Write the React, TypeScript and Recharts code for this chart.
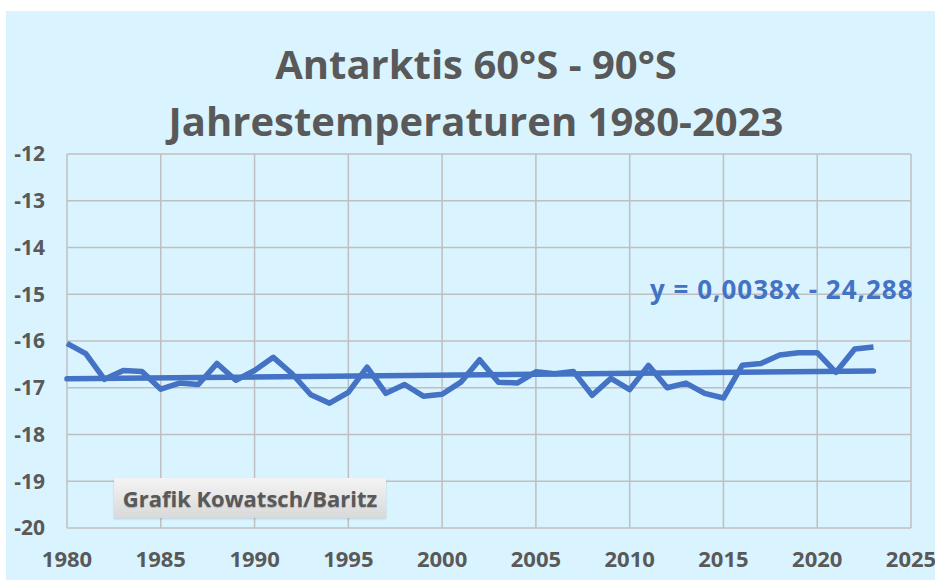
import React from "react";
import { LineChart, Line, XAxis, YAxis, CartesianGrid } from "recharts";

const years = [
  1980, 1981, 1982, 1983, 1984, 1985, 1986, 1987, 1988, 1989,
  1990, 1991, 1992, 1993, 1994, 1995, 1996, 1997, 1998, 1999,
  2000, 2001, 2002, 2003, 2004, 2005, 2006, 2007, 2008, 2009,
  2010, 2011, 2012, 2013, 2014, 2015, 2016, 2017, 2018, 2019,
  2020, 2021, 2022, 2023,
];
const temps = [
  -16.05, -16.27, -16.82, -16.63, -16.65, -17.03, -16.9, -16.93, -16.48, -16.84,
  -16.63, -16.35, -16.7, -17.15, -17.33, -17.1, -16.56, -17.12, -16.93, -17.18,
  -17.14, -16.88, -16.4, -16.88, -16.9, -16.66, -16.7, -16.65, -17.16, -16.8,
  -17.04, -16.52, -17.0, -16.9, -17.12, -17.22, -16.52, -16.48, -16.3, -16.25,
  -16.25, -16.67, -16.17, -16.13,
];
const trendYears = [1980, 2023];
const trendValues = [-16.81, -16.64];
const xTicks = [1980, 1985, 1990, 1995, 2000, 2005, 2010, 2015, 2020, 2025];
const yTicks = [-20, -19, -18, -17, -16, -15, -14, -13, -12];
const titleLines = ["Antarktis 60°S - 90°S", "Jahrestemperaturen 1980-2023"];
const equationText = "y = 0,0038x - 24,288";
const creditText = "Grafik Kowatsch/Baritz";

const data = years.map((y, i) => ({ year: y, temp: temps[i] }));
const trendData = trendYears.map((y, i) => ({ year: y, trend: trendValues[i] }));

const FONT = "'Open Sans', Lato, sans-serif";
const BLUE = "#4472C4";
const GRAY = "#595959";

export default function App() {
  return (
    <div style={{ position: "fixed", left: 0, top: 0, width: 935, height: 580, background: "#ffffff", overflow: "hidden" }}>
      <div style={{ position: "absolute", left: 6, top: 11, width: 929, height: 569, background: "#D9F4FE" }}>
        <LineChart
          width={929}
          height={569}
          margin={{ top: 143, right: 24, bottom: 0, left: 0 }}
          style={{ fontFamily: FONT }}
        >
          <CartesianGrid stroke="#BFBFBF" strokeWidth={1.5} />
          <XAxis
            dataKey="year"
            type="number"
            domain={[1980, 2025]}
            ticks={xTicks}
            axisLine={false}
            tickLine={false}
            height={52}
            tickMargin={17}
            allowDuplicatedCategory={false}
            tick={{ fill: GRAY, fontSize: 22, fontWeight: 700, fontFamily: FONT }}
          />
          <YAxis
            type="number"
            domain={[-20, -12]}
            ticks={yTicks}
            axisLine={false}
            tickLine={false}
            width={61}
            tickMargin={16}
            interval={0}
            tick={{ fill: GRAY, fontSize: 21, fontWeight: 700, fontFamily: FONT }}
          />
          <Line
            data={data}
            dataKey="temp"
            type="linear"
            stroke={BLUE}
            strokeWidth={5.5}
            dot={false}
            isAnimationActive={false}
            strokeLinejoin="round"
          />
          <Line
            data={trendData}
            dataKey="trend"
            type="linear"
            stroke={BLUE}
            strokeWidth={5.5}
            dot={false}
            isAnimationActive={false}
            strokeLinecap="round"
          />
        </LineChart>
      </div>
      <div
        style={{
          position: "absolute",
          left: 0,
          width: 935,
          top: 35,
          textAlign: "center",
          fontFamily: FONT,
          fontWeight: 700,
          fontSize: 40,
          lineHeight: "57px",
          color: GRAY,
        }}
      >
        <div style={{ paddingLeft: 17 }}>{titleLines[0]}</div>
        <div style={{ paddingLeft: 17 }}>{titleLines[1]}</div>
      </div>
      <div
        style={{
          position: "absolute",
          left: 650,
          top: 271,
          fontFamily: FONT,
          fontWeight: 700,
          fontSize: 26,
          letterSpacing: 1,
          lineHeight: "36px",
          color: BLUE,
          whiteSpace: "nowrap",
        }}
      >
        {equationText}
      </div>
      <div
        style={{
          position: "absolute",
          left: 114,
          top: 478,
          width: 272,
          height: 40,
          background: "linear-gradient(#f4f4f4, #d9d9d9)",
          boxShadow: "0 1px 2px rgba(0,0,0,0.15)",
          display: "flex",
          alignItems: "center",
          justifyContent: "center",
          fontFamily: FONT,
          fontWeight: 700,
          fontSize: 22,
          color: GRAY,
          textShadow: "0 1px 1px rgba(0,0,0,0.2)",
          whiteSpace: "nowrap",
        }}
      >
        {creditText}
      </div>
    </div>
  );
}
